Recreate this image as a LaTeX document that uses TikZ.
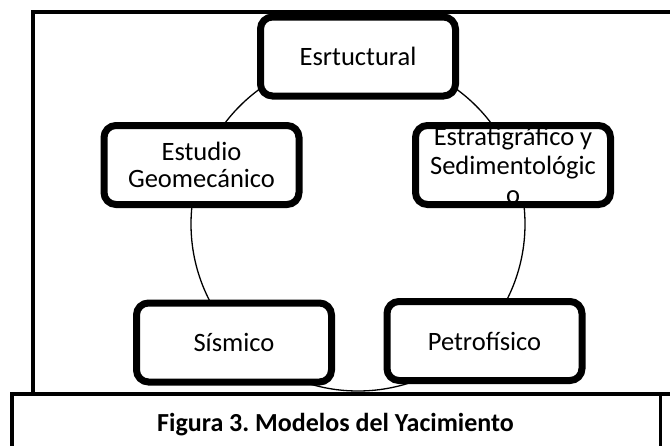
\documentclass[tikz,border=0pt]{standalone}
\usepackage{fontspec}
\setmainfont{Carlito}
\frenchspacing
\usetikzlibrary{shadows}
\tikzset{
  box/.style={draw=black, line width=7pt, rounded corners=12pt, fill=white,
    minimum width=195pt, minimum height=79pt, inner sep=0pt, align=center,
    font=\fontsize{26.5}{28}\selectfont,
    drop shadow={shadow xshift=1.5pt, shadow yshift=-1.5pt, opacity=0.35, fill=gray}},
  ring/.style={draw=black, line width=1.3pt},
  frame/.style={draw=black, line width=3.5pt},
  capt/.style={font=\fontsize{26}{28}\selectfont\bfseries, inner sep=0pt}
}
\begin{document}
\begin{tikzpicture}[x=1pt, y=-1pt]
\useasboundingbox (0,0) rectangle (670,445);
% outer frame (top and left)
\coordinate (ftl) at (33,12);
\coordinate (ftr) at (672,12);
\coordinate (fbl) at (33,393);
\draw[frame] (ftr) -- (ftl) -- (fbl);
% ring
\coordinate (c) at (358,224);
\draw[ring] (c) circle[radius=167];
% nodes
\node[box] (est) at (358,56.5) {Esrtuctural};
\node[box] (geo) at (201.5,165) {Estudio\\[-1pt]Geomecánico};
\node[box] (estr) at (513,165) {Estratigráfico y\\[1pt]Sedimentológic\\[1pt]o};
\node[box] (sis) at (234,342.5) {Sísmico};
\node[box] (pet) at (484.5,341) {Petrofísico};
% caption box
\coordinate (cl) at (12,394);
\coordinate (cr) at (660.5,394);
\coordinate (ce) at (672,394);
\draw[frame] (12,447) -- (cl) -- (ce);
\draw[frame] (cr) -- (660.5,447);
\node[capt, anchor=base] (cap) at (335.5,431.5) {Figura 3. Modelos del Yacimiento};
\end{tikzpicture}
\end{document}
